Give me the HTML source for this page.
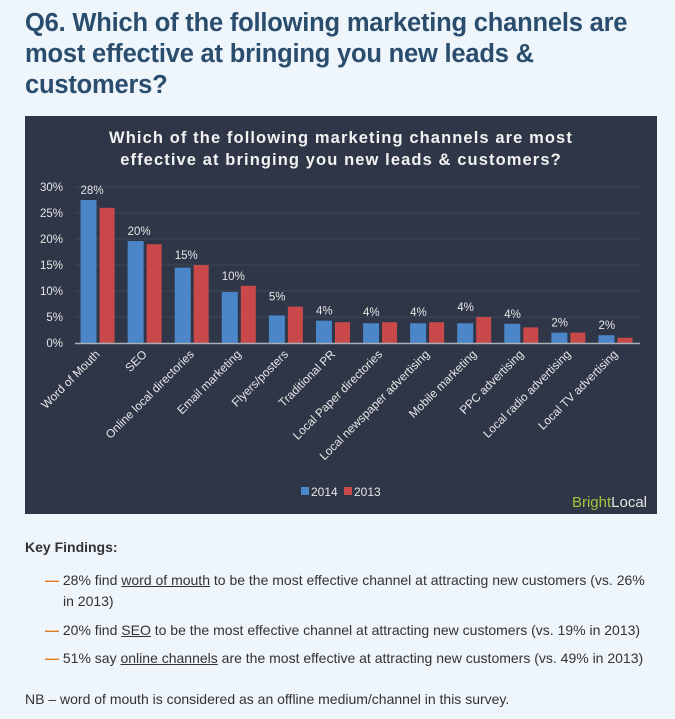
<!DOCTYPE html>
<html><head><meta charset="utf-8"><style>
body{margin:0;width:675px;height:719px;background:#eef5fb;font-family:"Liberation Sans",sans-serif;position:relative;overflow:hidden}
#title{position:absolute;left:25px;top:8px;width:640px;font-size:25.5px;font-weight:bold;line-height:31px;color:#2b4d6d;letter-spacing:-0.2px}
#chart{position:absolute;left:25px;top:116px}
.t{position:absolute;font-size:14px;color:#333;white-space:nowrap}
.d{color:#e07b22;font-weight:bold}
u{text-decoration:underline}
</style></head><body>
<div id="title">Q6. Which of the following marketing channels are most effective at bringing you new leads &amp; customers?</div>
<svg id="chart" width="632" height="398"></svg>
<div class="t" style="left:25px;top:539px;font-weight:bold">Key Findings:</div>
<div class="t" style="left:45px;top:572px"><span class="d">—</span> 28% find <u>word of mouth</u> to be the most effective channel at attracting new customers (vs. 26%</div>
<div class="t" style="left:63px;top:593px">in 2013)</div>
<div class="t" style="left:45px;top:622px"><span class="d">—</span> 20% find <u>SEO</u> to be the most effective channel at attracting new customers (vs. 19% in 2013)</div>
<div class="t" style="left:45px;top:650px"><span class="d">—</span> 51% say <u>online channels</u> are the most effective at attracting new customers (vs. 49% in 2013)</div>
<div class="t" style="left:25px;top:691px">NB – word of mouth is considered as an offline medium/channel in this survey.</div>
<script>
const categories=["Word of Mouth","SEO","Online local directories","Email marketing","Flyers/posters","Traditional PR","Local Paper directories","Local newspaper advertising","Mobile marketing","PPC advertising","Local radio advertising","Local TV advertising"];
const values2014=[27.5,19.6,14.5,9.8,5.3,4.3,3.8,3.8,3.8,3.7,2.0,1.5];
const values2013=[26,19,15,11,7,4,4,4,5,3,2,1];
const valueLabels=["28%","20%","15%","10%","5%","4%","4%","4%","4%","4%","2%","2%"];
const ticks=[0,5,10,15,20,25,30];
const svg=document.getElementById('chart');
const NS='http://www.w3.org/2000/svg';
function mk(tag,attrs,parent){const e=document.createElementNS(NS,tag);for(const k in attrs)e.setAttribute(k,attrs[k]);(parent||svg).appendChild(e);return e;}
const x0=50,x1=615,yBase=227,pxPer=5.2;
const y=v=>yBase-v*pxPer;
const pitch=(x1-x0)/categories.length;
const gx=i=>x0+pitch*i+pitch/2;
let bg=mk('rect',{x:0,y:0,width:632,height:398,fill:'#2e3647'});


let t1=mk('text',{x:316,y:27,'text-anchor':'middle',fill:'#f2f2f2','font-size':16.5,'font-weight':'bold','letter-spacing':'1.1'});
t1.textContent='Which of the following marketing channels are most';


let t2=mk('text',{x:316,y:49,'text-anchor':'middle',fill:'#f2f2f2','font-size':16.5,'font-weight':'bold','letter-spacing':'1.1'});
t2.textContent='effective at bringing you new leads & customers?';


ticks.forEach(v=>{
 if(v>0){let g=mk('line',{x1:x0,x2:x1,y1:y(v),y2:y(v),stroke:'#3d4659','stroke-width':1});
 
 }
 let l=mk('text',{x:38,y:y(v)+4,'text-anchor':'end',fill:'#e6e6e6','font-size':11.5});
 l.textContent=v+'%';
 
 
});
categories.forEach((c,i)=>{
 const cx=gx(i);
 let b=mk('rect',{x:cx-18,y:y(values2014[i]),width:16,height:values2014[i]*pxPer,fill:'#4a86c8'});
 
 
 let r=mk('rect',{x:cx+1,y:y(values2013[i]),width:15,height:values2013[i]*pxPer,fill:'#c9494a'});
 
 
 let vl=mk('text',{x:cx-18,y:y(Math.max(values2014[i],values2013[i]))-6,fill:'#e6e6e6','font-size':11.5});
 vl.textContent=valueLabels[i];
 
 
 let cl=mk('text',{x:cx+2,y:yBase+12,'text-anchor':'end',fill:'#e6e6e6','font-size':11.8,transform:`rotate(-45 ${cx+2} ${yBase+12})`});
 cl.textContent=c;
 
 
});
let ax=mk('line',{x1:x0,x2:x1,y1:yBase+0.5,y2:yBase+0.5,stroke:'#aab0ba','stroke-width':1.5});


let lg1=mk('rect',{x:276,y:371,width:8,height:8,fill:'#4a86c8'});


let lt1=mk('text',{x:286,y:380,fill:'#e6e6e6','font-size':12});
lt1.textContent='2014';


let lg2=mk('rect',{x:319,y:371,width:8,height:8,fill:'#c9494a'});


let lt2=mk('text',{x:329,y:380,fill:'#e6e6e6','font-size':12});
lt2.textContent='2013';


let logo=mk('text',{x:622,y:391,'text-anchor':'end','font-size':15});
logo.innerHTML='<tspan fill="#a5c43a">Bright</tspan><tspan fill="#e6e6e6">Local</tspan>';


</script>
</body></html>
